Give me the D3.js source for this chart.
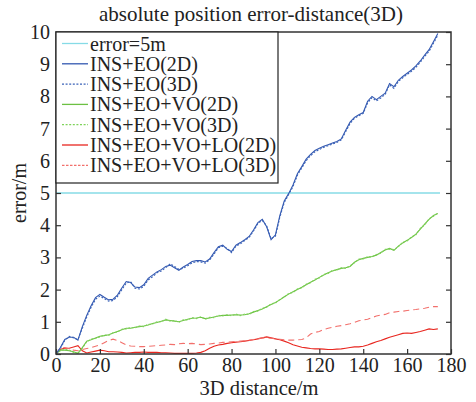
<!DOCTYPE html>
<html><head><meta charset="utf-8">
<script src="https://cdn.jsdelivr.net/npm/d3@7/dist/d3.min.js"></script>
<style>
body{margin:0;background:#fff;}
svg{display:block;}
</style></head>
<body><svg id="c" width="476" height="402"></svg>
<script>
const title = "absolute position error-distance(3D)";
const xLabel = "3D distance/m";
const yLabel = "error/m";
const xTicks = [0,20,40,60,80,100,120,140,160,180];
const yTicks = [0,1,2,3,4,5,6,7,8,9,10];
const threshold = 5;
const thresholdRange = [0, 175];
const distance = [0,2,4,6,8,10,12,14,16,18,20,22,24,26,28,30,32,34,36,38,40,42,44,46,48,50,52,54,56,58,60,62,64,66,68,70,72,74,76,78,80,82,84,86,88,90,92,94,96,98,100,102,104,106,108,110,112,114,116,118,120,122,124,126,128,130,132,134,136,138,140,142,144,146,148,150,152,154,156,158,160,162,164,166,168,170,172,174];
const insEo2D = [0,0.2,0.45,0.52,0.52,0.43,0.85,1.2,1.5,1.75,1.85,1.76,1.68,1.7,1.83,2.05,2.25,2.22,2.08,2.06,2.15,2.35,2.45,2.55,2.62,2.72,2.76,2.68,2.6,2.7,2.78,2.87,2.9,2.9,2.86,2.95,3.15,3.33,3.38,3.25,3.18,3.38,3.46,3.55,3.65,3.85,4.08,4.18,3.95,3.55,3.7,4.3,4.75,4.98,5.25,5.6,5.82,6.05,6.2,6.32,6.39,6.45,6.5,6.55,6.6,6.68,6.95,7.2,7.35,7.43,7.5,7.85,8.0,7.9,8.0,8.1,8.4,8.3,8.5,8.62,8.72,8.82,8.95,9.1,9.28,9.45,9.7,9.95];
const insEo3D = [0,0.18,0.42,0.55,0.5,0.45,0.8,1.15,1.45,1.7,1.8,1.72,1.64,1.66,1.78,2.0,2.2,2.25,2.04,2.02,2.1,2.3,2.4,2.52,2.58,2.68,2.8,2.72,2.63,2.66,2.74,2.83,2.87,2.86,2.82,2.92,3.1,3.3,3.35,3.28,3.15,3.35,3.42,3.52,3.62,3.82,4.05,4.15,3.98,3.58,3.66,4.25,4.7,4.95,5.2,5.55,5.78,6.0,6.16,6.28,6.35,6.42,6.47,6.52,6.57,6.65,6.9,7.16,7.32,7.4,7.47,7.8,7.96,7.86,7.95,8.06,8.36,8.25,8.46,8.58,8.68,8.78,8.9,9.06,9.24,9.4,9.65,9.9];
const insEoVo2D = [0,0.12,0.12,0.1,0.07,0.02,0.2,0.4,0.44,0.5,0.55,0.57,0.6,0.65,0.7,0.75,0.8,0.8,0.83,0.85,0.87,0.9,0.95,0.98,1.02,1.06,1.04,1.02,1.0,1.04,1.08,1.11,1.12,1.14,1.1,1.12,1.15,1.18,1.2,1.2,1.21,1.22,1.21,1.22,1.25,1.3,1.35,1.4,1.47,1.54,1.6,1.68,1.78,1.86,1.93,2.0,2.07,2.15,2.23,2.3,2.38,2.45,2.52,2.58,2.62,2.66,2.68,2.72,2.85,2.93,2.97,3.0,3.03,3.07,3.15,3.23,3.28,3.22,3.35,3.45,3.53,3.62,3.72,3.88,4.03,4.18,4.3,4.36];
const insEoVo3D = [0,0.1,0.14,0.12,0.05,0.03,0.18,0.38,0.46,0.48,0.53,0.59,0.58,0.66,0.68,0.77,0.78,0.82,0.81,0.87,0.85,0.92,0.93,1.0,1.0,1.08,1.02,1.04,0.98,1.06,1.06,1.13,1.1,1.16,1.08,1.14,1.13,1.2,1.18,1.22,1.19,1.24,1.19,1.24,1.23,1.32,1.33,1.42,1.45,1.56,1.58,1.7,1.76,1.88,1.91,2.02,2.05,2.17,2.21,2.32,2.36,2.47,2.5,2.6,2.6,2.68,2.66,2.74,2.83,2.95,2.95,3.02,3.01,3.09,3.13,3.25,3.26,3.24,3.33,3.47,3.51,3.64,3.7,3.9,4.01,4.2,4.28,4.38];
const insEoVoLo2D = [0,0.15,0.18,0.18,0.22,0.26,0.1,0.03,0.06,0.09,0.12,0.1,0.07,0.07,0.06,0.05,0.03,0.04,0.05,0.05,0.06,0.05,0.05,0.05,0.04,0.04,0.03,0.02,0.02,0.02,0.02,0.02,0.03,0.05,0.1,0.18,0.24,0.28,0.3,0.33,0.35,0.37,0.38,0.4,0.42,0.44,0.47,0.5,0.53,0.5,0.47,0.44,0.4,0.35,0.29,0.25,0.21,0.19,0.17,0.16,0.16,0.15,0.14,0.14,0.15,0.16,0.18,0.2,0.22,0.22,0.24,0.28,0.33,0.38,0.42,0.47,0.52,0.56,0.6,0.64,0.65,0.64,0.67,0.7,0.74,0.78,0.76,0.78];
const insEoVoLo3D = [0,0.18,0.2,0.16,0.12,0.1,0.14,0.17,0.2,0.24,0.28,0.35,0.42,0.46,0.42,0.35,0.28,0.25,0.24,0.23,0.23,0.24,0.25,0.26,0.27,0.28,0.3,0.29,0.32,0.33,0.32,0.33,0.31,0.29,0.3,0.31,0.33,0.34,0.36,0.37,0.38,0.39,0.4,0.41,0.43,0.45,0.48,0.5,0.5,0.49,0.48,0.46,0.44,0.43,0.43,0.44,0.45,0.5,0.62,0.67,0.7,0.76,0.8,0.83,0.86,0.88,0.91,0.94,0.98,1.03,1.06,1.08,1.13,1.18,1.21,1.23,1.28,1.3,1.32,1.33,1.35,1.37,1.38,1.4,1.42,1.45,1.47,1.47];
const seriesNames = ["INS+EO(2D)","INS+EO(3D)","INS+EO+VO(2D)","INS+EO+VO(3D)","INS+EO+VO+LO(2D)","INS+EO+VO+LO(3D)"];
const seriesValues = [insEo2D, insEo3D, insEoVo2D, insEoVo3D, insEoVoLo2D, insEoVoLo3D];
const thresholdName = "error=5m";

const colors = ["#3358b0","#3a62b8","#6cc043","#7fd35a","#e8261f","#f2706c"];
const dashes = [null,"2,1.6",null,"2,1.6",null,"6,4"];
const legendDashes = [null,"2,1.6",null,"2,1.6",null,"2.5,1.5"];
const cyan = "#86dbe6";
const FONT = "'Liberation Serif', 'Times New Roman', serif";

const svg = d3.select("#c").style("font-family", FONT);
const m = {l:56, r:25, t:32, b:48};
const W = 476, H = 402;
const x = d3.scaleLinear().domain([0,180]).range([m.l, W-m.r]);
const y = d3.scaleLinear().domain([0,10]).range([H-m.b, m.t]);

svg.append("defs").append("clipPath").attr("id","clip")
  .append("rect").attr("x",m.l).attr("y",m.t).attr("width",W-m.r-m.l).attr("height",H-m.b-m.t);

const g = svg.append("g").attr("clip-path","url(#clip)");
g.append("line").attr("x1",x(thresholdRange[0])).attr("x2",x(thresholdRange[1]))
  .attr("y1",y(threshold)).attr("y2",y(threshold)).attr("stroke",cyan).attr("stroke-width",1.3);

const line = d3.line().x((d,i)=>x(distance[i])).y(d=>y(d));
const order = [4,5,2,3,0,1];
order.forEach(k=>{
  g.append("path").datum(seriesValues[k]).attr("d",line)
    .attr("fill","none").attr("stroke",colors[k])
    .attr("stroke-width",1.1)
    .attr("stroke-dasharray",dashes[k]);
});

const axisColor = "#333";
const xb = svg.append("g").attr("transform",`translate(0,${H-m.b})`)
  .call(d3.axisBottom(x).tickValues(xTicks).tickSizeInner(-5).tickSizeOuter(0).tickPadding(6));
const yl = svg.append("g").attr("transform",`translate(${m.l},0)`)
  .call(d3.axisLeft(y).tickValues(yTicks).tickSizeInner(-5).tickSizeOuter(0).tickPadding(6));
const yr = svg.append("g").attr("transform",`translate(${W-m.r},0)`)
  .call(d3.axisRight(y).tickValues(yTicks).tickSizeInner(-5).tickSizeOuter(0).tickFormat(""));
[xb,yl,yr].forEach(a=>{
  a.attr("font-family",null).attr("font-size",null);
  a.select(".domain").remove();
  a.selectAll("line").attr("stroke",axisColor).attr("stroke-width",1.2);
  a.selectAll("text").style("font-family",FONT).style("font-size","20px").attr("fill","#222");
});
xb.selectAll("text").attr("y",18).attr("dy",0);

svg.append("rect").attr("x",m.l).attr("y",m.t).attr("width",W-m.r-m.l).attr("height",H-m.b-m.t)
  .attr("fill","none").attr("stroke",axisColor).attr("stroke-width",1.5);

svg.append("text").attr("x",251).attr("y",21).attr("text-anchor","middle")
  .style("font-family",FONT).style("font-size","21px").attr("fill","#222").text(title);
svg.append("text").attr("x",259).attr("y",395).attr("text-anchor","middle")
  .style("font-family",FONT).style("font-size","20.5px").attr("fill","#222").text(xLabel);
svg.append("text").attr("transform",`translate(26,${(m.t+H-m.b)/2}) rotate(-90)`).attr("text-anchor","middle")
  .style("font-family",FONT).style("font-size","20px").attr("fill","#222").text(yLabel);

const lg = svg.append("g");
lg.append("rect").attr("x",m.l).attr("y",m.t).attr("width",222).attr("height",151)
  .attr("fill","#fff").attr("stroke","#222").attr("stroke-width",1.2);
const legItems = [{name:thresholdName,color:cyan,dash:null}].concat(
  seriesNames.map((n,i)=>({name:n,color:colors[i],dash:legendDashes[i]})));
legItems.forEach((it,i)=>{
  const yy = 43.5 + i*20.3;
  lg.append("line").attr("x1",62).attr("x2",88).attr("y1",yy).attr("y2",yy)
    .attr("stroke",it.color).attr("stroke-width",1.3).attr("stroke-dasharray",it.dash);
  lg.append("text").attr("x",90).attr("y",yy).attr("dy","0.35em")
    .style("font-family",FONT).style("font-size","20px").attr("fill","#222").text(it.name);
});
</script></body></html>
